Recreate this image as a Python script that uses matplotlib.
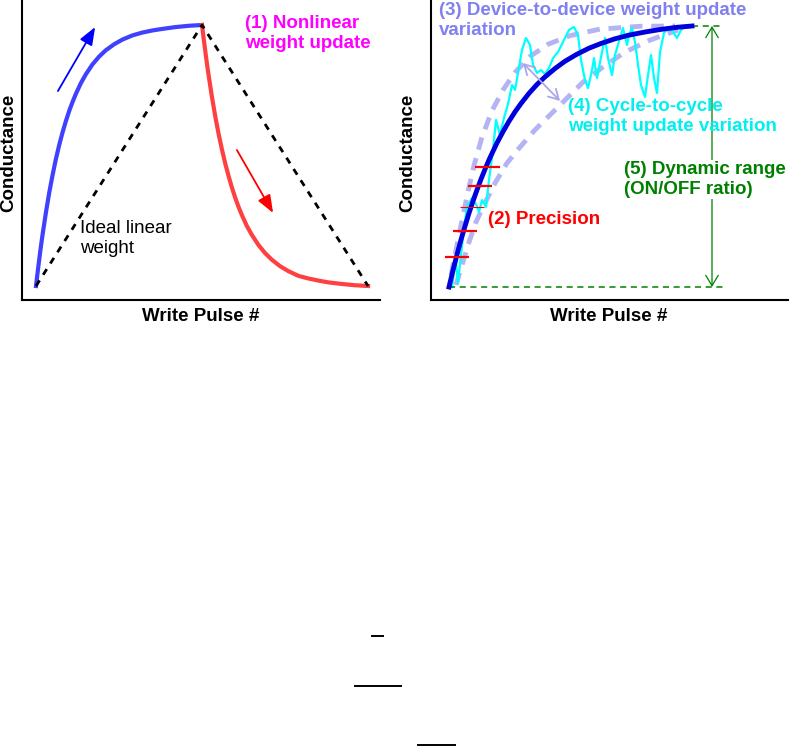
import matplotlib
matplotlib.use("Agg")
import matplotlib.pyplot as plt
from matplotlib.lines import Line2D

plt.rcParams["font.family"] = ["Liberation Sans", "DejaVu Sans"]

# Left panel: potentiation / depression curves (pulse #, conductance in %)
ltp_pulse = [0, 0.5, 1, 1.5, 2, 3, 4, 5, 6, 7, 8, 9, 10, 11, 12, 13.5, 15, 17, 19, 21,
             23.5, 26, 29, 32, 35, 38, 42, 46, 50]
ltp_cond = [0, 5.4, 10.5, 15.4, 19.9, 28.3, 35.9, 42.6, 48.7, 54.1, 58.9, 63.2, 67.1, 70.5,
            73.6, 77.7, 81.1, 84.9, 87.9, 90.3, 92.6, 94.4, 96.0, 97.1, 97.9, 98.5, 99.2,
            99.7, 100]
ltd_pulse = [50, 50.5, 51, 51.5, 52, 53, 54, 55, 56, 57, 58, 59, 60, 61, 62, 63.5, 65, 67,
             69, 71, 73.5, 76, 79, 82, 85, 88, 92, 96, 100]
ltd_cond = [100, 94.7, 89.8, 85.0, 80.6, 72.3, 64.9, 58.2, 52.3, 46.9, 42.1, 37.7, 33.8,
            30.3, 27.2, 23.0, 19.6, 15.7, 12.6, 10.1, 7.6, 5.7, 3.9, 2.9, 2.1, 1.4, 0.8, 0.3, 0]
ideal_pulse = [0, 50, 100]
ideal_cond = [0, 100, 0]

# Right panel: mean update curve, device-to-device bounds, one noisy cycle
mean_pulse = [0, 1, 2, 3, 4, 5, 6, 7, 8, 9, 10, 11, 12, 13.5, 15, 16.5, 18, 20, 22, 24,
              26.5, 29, 32, 35, 38, 41.5, 45, 49, 53, 57, 60.75]
mean_cond = [0, 6.4, 12.4, 18.1, 23.3, 28.3, 32.9, 37.2, 41.3, 45.1, 48.7, 52.0, 55.2,
             59.5, 63.5, 67.1, 70.3, 74.2, 77.6, 80.5, 83.7, 86.5, 89.2, 91.5, 93.3, 95.1,
             96.5, 97.7, 98.7, 99.5, 100]

upper_pulse = [0.5, 1.75, 3.25, 4.75, 6.25, 8.25, 10.75, 13.5, 16.5, 20.25, 24.75, 30.25,
               37.75, 47.75, 56.5]
upper_cond = [4.6, 14.2, 25.5, 36.5, 46.5, 57.5, 67.5, 75.5, 82.2, 88.3, 93.0, 96.3, 98.8,
              99.9, 100]
lower_pulse = [1.75, 3.25, 4.75, 6.75, 9.0, 11.5, 14.5, 17.75, 21.5, 25.25, 29.0, 33.5,
               38.5, 44.0, 50.25, 57.25]
lower_cond = [0.8, 8.4, 16.1, 24.9, 32.2, 39.8, 47.5, 53.6, 60.2, 65.9, 71.6, 78.5, 84.3,
              90.0, 94.6, 98.5]

cycle_pulse = [0.75, 1.25, 1.75, 2.25, 3.0, 3.75, 4.5, 5.75, 6.75, 7.5, 8.25, 9.25, 10.0, 11.0,
               11.75, 12.75, 13.75, 14.75, 15.75, 16.5, 17.25, 18.25, 19.25, 20.25, 21.0, 22.0,
               23.0, 24.0, 25.0, 26.0, 27.25, 28.5, 30.0, 31.25, 32.25, 33.0, 34.0, 34.75, 35.75,
               36.25, 37.0, 38.25, 39.0, 39.75, 40.75, 41.5, 42.75, 43.5, 44.5, 45.0, 45.75, 46.5,
               47.25, 48.0, 49.0, 49.75, 50.5, 51.25, 52.0, 52.75, 53.75, 54.75, 56.0, 57.0, 58.0, 59.0]
cycle_cond = [0, 5.7, 9.6, 1.5, 12.3, 22.6, 30.7, 34.1, 31.8, 28.7, 33.3, 30.7, 41.0, 52.5,
              64.0, 58.2, 64.8, 70.1, 77.4, 75.5, 82.0, 90.8, 95.4, 92.7, 85.1, 82.0,
              83.1, 81.6, 83.9, 87.7, 90.0, 93.9, 98.5, 99.6, 96.6, 87.0, 79.3, 76.2, 83.1,
              87.7, 80.1, 90.0, 95.4, 87.7, 81.2, 88.9, 95.4, 99.2, 92.7, 96.6, 99.2, 93.9,
              85.1, 77.4, 72.8, 81.2, 88.9, 80.1, 74.3, 90.0, 97.3, 99.2, 97.7, 95.4, 98.5, 99.6]

# precision levels: conductance of each step and its pulse span
step_cond = [11.6, 21.6, 38.8, 46.1]
step_start = [-1.0, 1.0, 4.75, 6.5]
step_end = [5.0, 7.0, 10.75, 12.75]
fine_cond = 30.5
fine_span = [2.75, 8.75]

dyn_range = [0, 100]
dyn_x = 65.75

W, H = 795, 746
fig = plt.figure(figsize=(W / 100, H / 100), dpi=100)

ax1 = fig.add_axes([22 / W, 1 - 300 / H, 358 / W, 300 / H])
ax2 = fig.add_axes([431 / W, 1 - 300 / H, 357 / W, 300 / H])

for ax in (ax1, ax2):
    ax.set_xticks([])
    ax.set_yticks([])
    for side in ("top", "right"):
        ax.spines[side].set_visible(False)
    for side in ("left", "bottom"):
        ax.spines[side].set_linewidth(1.5)

FS = 13.5

# ---- left panel ----
ax1.set_xlim(-4.22, 103.6)
ax1.set_ylim(-5.36, 109.58)
ax1.plot(ltp_pulse, ltp_cond, color="#4040ff", lw=3, solid_joinstyle="round", zorder=2)
ax1.plot(ltd_pulse, ltd_cond, color="#ff4040", lw=3, solid_joinstyle="round", zorder=2)
ax1.plot(ideal_pulse, ideal_cond, color="black", lw=2, dashes=(2.4, 2.4), zorder=3)

ax1.annotate("", xy=(17.8, 99.2), xytext=(6.6, 74.7),
             arrowprops=dict(arrowstyle="-|>,head_length=0.9,head_width=0.35",
                             color="#0000ff", lw=1.3, shrinkA=0, shrinkB=0,
                             mutation_scale=12))
ax1.annotate("", xy=(71.4, 28.0), xytext=(60.5, 52.1),
             arrowprops=dict(arrowstyle="-|>,head_length=0.9,head_width=0.35",
                             color="#ff0000", lw=1.3, shrinkA=0, shrinkB=0,
                             mutation_scale=12))

ax1.text(63, 103.8, "(1) Nonlinear\nweight update", color="#ff00ff", fontsize=FS,
         fontweight="bold", ha="left", va="top", linespacing=1.25)
ax1.text(13.3, 25.3, "Ideal linear\nweight", color="black", fontsize=FS,
         ha="left", va="top", linespacing=1.25)

# ---- right panel ----
ax2.set_xlim(-4.5, 84.75)
ax2.set_ylim(-4.98, 109.96)
ax2.plot(upper_pulse, upper_cond, color="#b4b4f4", lw=3.5, dashes=(2.6, 1.8), zorder=1)
ax2.plot(lower_pulse, lower_cond, color="#b4b4f4", lw=3.5, dashes=(2.6, 1.8), zorder=1)
ax2.plot(cycle_pulse, cycle_cond, color="#00ffff", lw=1.6, zorder=2)
ax2.plot(mean_pulse, mean_cond, color="#0000dd", lw=3.5, solid_joinstyle="round", zorder=3)

ax2.hlines(step_cond, step_start, step_end, color="#ff0000", lw=1.6, zorder=4)
ax2.hlines(fine_cond, fine_span[0], fine_span[1], color="#ff0000", lw=0.8, zorder=4)

ax2.plot([mean_pulse[-1], 68.5], [dyn_range[1]] * 2, color="#008000", lw=1.1, dashes=(4, 3))
ax2.plot([0, 68.5], [dyn_range[0]] * 2, color="#008000", lw=1.1, dashes=(4, 3))
ax2.annotate("", xy=(dyn_x, dyn_range[1]), xytext=(dyn_x, dyn_range[0]),
             arrowprops=dict(arrowstyle="<->,head_length=0.75,head_width=0.45",
                             color="#008000", lw=0.9, shrinkA=0, shrinkB=0,
                             mutation_scale=10))
ax2.annotate("", xy=(18.5, 85.8), xytext=(27.75, 71.3),
             arrowprops=dict(arrowstyle="<->,head_length=0.7,head_width=0.4",
                             color="#a8a8e8", lw=1.3, shrinkA=0, shrinkB=0,
                             mutation_scale=10))

ax2.text(-2.5, 109.2, "(3) Device-to-device weight update\nvariation", color="#8080f0",
         fontsize=FS, fontweight="bold", ha="left", va="top", linespacing=1.25)
ax2.text(29.75, 72.4, "(4) Cycle-to-cycle\nweight update variation", color="#00f0f0",
         fontsize=FS, fontweight="bold", ha="left", va="top", linespacing=1.25)
ax2.text(43.75, 48.3, "(5) Dynamic range\n(ON/OFF ratio)", color="#008000",
         fontsize=FS, fontweight="bold", ha="left", va="top", linespacing=1.25, zorder=6,
         bbox=dict(facecolor="white", edgecolor="none", pad=1))
ax2.text(9.75, 29.1, "(2) Precision", color="#ff0000", fontsize=FS, fontweight="bold",
         ha="left", va="top")

# axis titles
for xl, xc in ((9, 201), (408, 609)):
    fig.text(xl / W, 1 - 153 / H, "Conductance", rotation=90, fontsize=FS,
             fontweight="bold", ha="center", va="center")
    fig.text(xc / W, 1 - 316 / H, "Write Pulse #", fontsize=FS,
             fontweight="bold", ha="center", va="center")

# stray fraction bars left below the panels
for x0, x1, y in ((372, 383, 636), (355, 401, 686), (418, 455, 745)):
    fig.add_artist(Line2D([x0 / W, x1 / W], [1 - y / H, 1 - y / H],
                          transform=fig.transFigure, color="black", lw=1.4))

fig.savefig("out.png", dpi=100)
